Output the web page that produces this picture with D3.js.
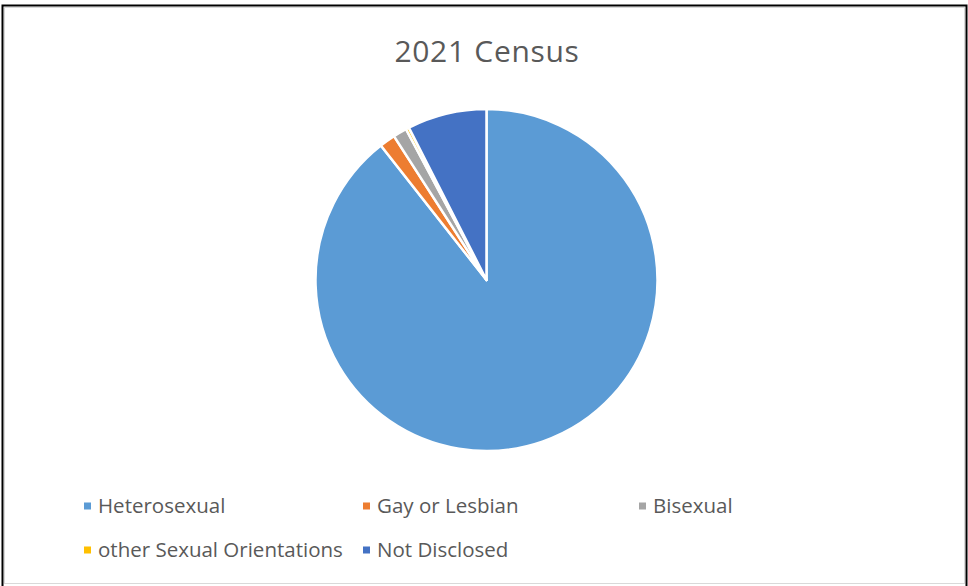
<!DOCTYPE html>
<html>
<head>
<meta charset="utf-8">
<script src="https://cdn.jsdelivr.net/npm/d3@7"></script>
<style>
html,body{margin:0;padding:0;background:#fff;}
svg{display:block;}
</style>
</head>
<body>
<svg id="chart" width="968" height="586"></svg>
<script>
const categories = ["Heterosexual", "Gay or Lesbian", "Bisexual", "other Sexual Orientations", "Not Disclosed"];
const values = [89.4, 1.5, 1.3, 0.3, 7.5];
const colors = ["#5B9BD5", "#ED7D31", "#A5A5A5", "#FFC000", "#4472C4"];
const title = "2021 Census";

const svg = d3.select("#chart");
const font = "'Open Sans', 'Noto Sans', sans-serif";

// frame
svg.append("rect").attr("x", 4.5).attr("y", 7.5).attr("width", 960).attr("height", 576)
  .attr("fill", "#fff").attr("stroke", "#d9d9d9").attr("stroke-width", 1);
svg.append("path").attr("d", "M2.5,586 V5.5 H966.5 V586")
  .attr("fill", "none").attr("stroke", "#000").attr("stroke-width", 2);

// title
svg.append("text").attr("x", 487).attr("y", 62).attr("text-anchor", "middle")
  .attr("font-family", font).attr("font-size", 30).attr("letter-spacing", 0.7)
  .attr("fill", "#595959").text(title);

// pie
const cx = 486.5, cy = 280, r = 171;
const data = categories.map((c, i) => ({ name: c, value: values[i], color: colors[i] }));
const pie = d3.pie().value(d => d.value).sort(null).startAngle(0).endAngle(2 * Math.PI);
const arc = d3.arc().innerRadius(0).outerRadius(r);
const color = d3.scaleOrdinal().domain(categories).range(colors);

svg.append("g").attr("transform", `translate(${cx},${cy})`)
  .selectAll("path").data(pie(data)).join("path")
  .attr("d", arc).attr("fill", d => color(d.data.name))
  .attr("stroke", "#fff").attr("stroke-width", 2.5).attr("stroke-linejoin", "round");

// legend
const legendPos = [[84, 506], [363, 506], [639, 506], [84, 550], [363, 550]];
const lg = svg.append("g");
data.forEach((d, i) => {
  const [x, y] = legendPos[i];
  lg.append("rect").attr("x", x).attr("y", y - 3.5).attr("width", 7).attr("height", 7).attr("fill", color(d.name));
  lg.append("text").attr("x", x + 14).attr("y", y + 7).attr("font-family", font)
    .attr("font-size", 20.5).attr("fill", "#595959").text(d.name);
});
</script>
</body>
</html>
